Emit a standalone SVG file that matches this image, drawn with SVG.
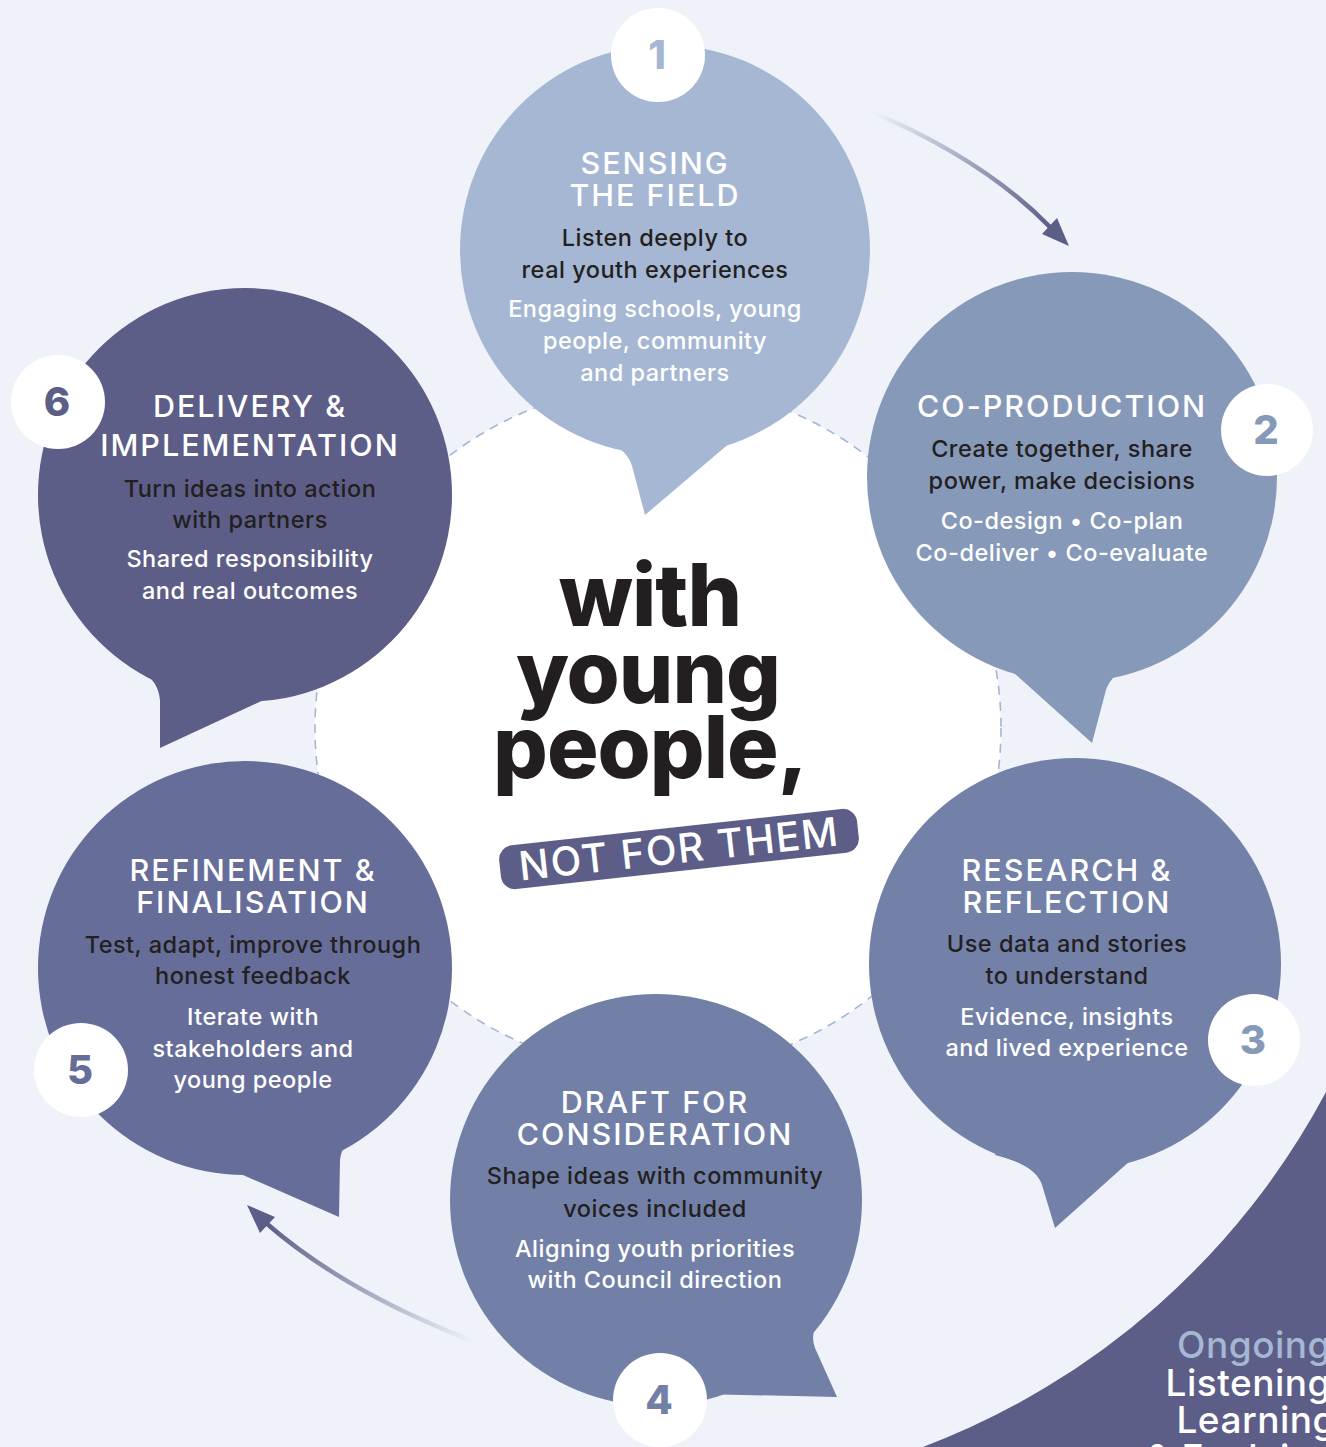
<svg xmlns="http://www.w3.org/2000/svg" width="1326" height="1447" viewBox="0 0 1326 1447">
<defs>
<style>
.title{font-family:Inter,"Noto Sans",sans-serif;font-size:30.5px;font-weight:500;fill:#ffffff;text-anchor:middle;letter-spacing:2px}
.sub{font-family:Inter,"Noto Sans",sans-serif;font-size:23.5px;font-weight:500;fill:#231f20;text-anchor:middle;letter-spacing:0.5px}
.desc{font-family:Inter,"Noto Sans",sans-serif;font-size:23.5px;font-weight:500;fill:#ffffff;text-anchor:middle;letter-spacing:0.5px}
.num{font-family:Inter,"Noto Sans",sans-serif;font-size:40px;font-weight:800;text-anchor:middle}
.big{font-family:Inter,"Noto Sans",sans-serif;font-size:86px;font-weight:800;fill:#231f20;text-anchor:middle;letter-spacing:-1px}
.corner{font-family:Inter,"Noto Sans",sans-serif;font-size:37px;font-weight:500;text-anchor:end;letter-spacing:0.5px}
.badge{fill:#ffffff}
</style>
<linearGradient id="g1" gradientUnits="userSpaceOnUse" x1="872" y1="112" x2="1050" y2="228">
<stop offset="0" stop-color="#5c5e87" stop-opacity="0"/>
<stop offset="1" stop-color="#5c5e87" stop-opacity="1"/>
</linearGradient>
<linearGradient id="g2" gradientUnits="userSpaceOnUse" x1="475" y1="1342" x2="266" y2="1223">
<stop offset="0" stop-color="#5c5e87" stop-opacity="0"/>
<stop offset="1" stop-color="#5c5e87" stop-opacity="1"/>
</linearGradient>
</defs>
<rect x="0" y="0" width="1326" height="1447" fill="#eff3f9"/>
<path d="M 1326 1092 A 763 763 0 0 1 923 1447 L 1326 1447 Z" fill="#5c5e87"/>
<circle cx="658" cy="728" r="343" fill="#ffffff" stroke="#a6b7d2" stroke-width="1.6" stroke-dasharray="9 7"/>

<g id="connectors">
<path d="M 872 112 Q 985 160 1051 228" fill="none" stroke="url(#g1)" stroke-width="4.5"/>
<polygon points="1069,246 1042,234 1057,218" fill="#5c5e87"/>
<path d="M 475 1342 Q 345 1292 266 1223" fill="none" stroke="url(#g2)" stroke-width="4.5"/>
<polygon points="247,1205 260,1233 275,1217" fill="#5c5e87"/>
</g>

<g id="node1">
<circle cx="665" cy="250" r="205" fill="#a6b7d3"/>
<path d="M 598 440 Q 626 446 632 466 L 645 515 L 738 436 Q 760 420 790 408 L 665 300 Z" fill="#a6b7d3"/>
<circle class="badge" cx="658" cy="55" r="47"/>
<text class="num" x="657" y="69" fill="#a6b7d3">1</text>
<text class="title" x="655" y="174">SENSING</text>
<text class="title" x="655" y="206">THE FIELD</text>
<text class="sub" x="655" y="246">Listen deeply to</text>
<text class="sub" x="655" y="278">real youth experiences</text>
<text class="desc" x="655" y="317">Engaging schools, young</text>
<text class="desc" x="655" y="349">people, community</text>
<text class="desc" x="655" y="381">and partners</text>
</g>

<g id="node2">
<circle cx="1072" cy="477" r="205" fill="#8699b9"/>
<path d="M 1005 665 L 1092 743 L 1106 690 Q 1112 672 1135 666 L 1072 560 Z" fill="#8699b9"/>
<circle class="badge" cx="1267" cy="430" r="46"/>
<text class="num" x="1266" y="444" fill="#8699b9">2</text>
<text class="title" x="1062" y="417">CO-PRODUCTION</text>
<text class="sub" x="1062" y="457">Create together, share</text>
<text class="sub" x="1062" y="489">power, make decisions</text>
<text class="desc" x="1062" y="529">Co-design • Co-plan</text>
<text class="desc" x="1062" y="561">Co-deliver • Co-evaluate</text>
</g>

<g id="node3">
<circle cx="1075" cy="964" r="206" fill="#7381a9"/>
<path d="M 995 1155 Q 1036 1165 1042 1185 L 1055 1228 L 1140 1152 L 1075 1050 Z" fill="#7381a9"/>
<circle class="badge" cx="1254" cy="1040" r="46"/>
<text class="num" x="1253" y="1054" fill="#8699b9">3</text>
<text class="title" x="1067" y="881">RESEARCH &amp;</text>
<text class="title" x="1067" y="913">REFLECTION</text>
<text class="sub" x="1067" y="952">Use data and stories</text>
<text class="sub" x="1067" y="984">to understand</text>
<text class="desc" x="1067" y="1025">Evidence, insights</text>
<text class="desc" x="1067" y="1056">and lived experience</text>
</g>

<g id="node4">
<circle cx="656" cy="1200" r="206" fill="#7280a8"/>
<path d="M 826 1308 Q 808 1330 815 1348 L 837 1397 L 700 1394 L 656 1250 Z" fill="#7280a8"/>
<circle class="badge" cx="660" cy="1400" r="47"/>
<text class="num" x="659" y="1414" fill="#7280a8">4</text>
<text class="title" x="655" y="1113">DRAFT FOR</text>
<text class="title" x="655" y="1145">CONSIDERATION</text>
<text class="sub" x="655" y="1184">Shape ideas with community</text>
<text class="sub" x="655" y="1217">voices included</text>
<text class="desc" x="655" y="1257">Aligning youth priorities</text>
<text class="desc" x="655" y="1288">with Council direction</text>
</g>

<g id="node5">
<circle cx="245" cy="968" r="207" fill="#676d99"/>
<path d="M 365 1125 Q 342 1140 340 1160 L 339 1217 L 227 1168 L 245 1050 Z" fill="#676d99"/>
<circle class="badge" cx="81" cy="1070" r="47"/>
<text class="num" x="80" y="1084" fill="#676d99">5</text>
<text class="title" x="253" y="881">REFINEMENT &amp;</text>
<text class="title" x="253" y="913">FINALISATION</text>
<text class="sub" x="253" y="953">Test, adapt, improve through</text>
<text class="sub" x="253" y="984">honest feedback</text>
<text class="desc" x="253" y="1025">Iterate with</text>
<text class="desc" x="253" y="1057">stakeholders and</text>
<text class="desc" x="253" y="1088">young people</text>
</g>

<g id="node6">
<circle cx="245" cy="495" r="207" fill="#5c5e87"/>
<path d="M 130 665 Q 158 676 160 700 L 160 748 L 270 697 L 245 600 Z" fill="#5c5e87"/>
<circle class="badge" cx="58" cy="402" r="47"/>
<text class="num" x="57" y="416" fill="#5c5e87">6</text>
<text class="title" x="250" y="417">DELIVERY &amp;</text>
<text class="title" x="250" y="456">IMPLEMENTATION</text>
<text class="sub" x="250" y="497">Turn ideas into action</text>
<text class="sub" x="250" y="528">with partners</text>
<text class="desc" x="250" y="567">Shared responsibility</text>
<text class="desc" x="250" y="599">and real outcomes</text>
</g>

<g id="center">
<text class="big" x="650" y="626">with</text>
<text class="big" x="648" y="703">young</text>
<text class="big" x="650" y="778">people,</text>
<g transform="translate(679 849) rotate(-6.3)">
<rect x="-180" y="-22" width="360" height="44" rx="14" fill="#5c5e87"/>
<text x="0" y="14" font-family="Inter, 'Noto Sans', sans-serif" font-size="40" font-weight="500" fill="#ffffff" text-anchor="middle" letter-spacing="1.5">NOT FOR THEM</text>
</g>
</g>

<g id="corner">
<text class="corner" x="1331" y="1358" fill="#a6b7d3">Ongoing</text>
<text class="corner" x="1331" y="1396" fill="#ffffff">Listening</text>
<text class="corner" x="1336" y="1433" fill="#ffffff">Learning</text>
<text class="corner" x="1336" y="1471" fill="#ffffff">&amp; Evolving</text>
</g>
</svg>
